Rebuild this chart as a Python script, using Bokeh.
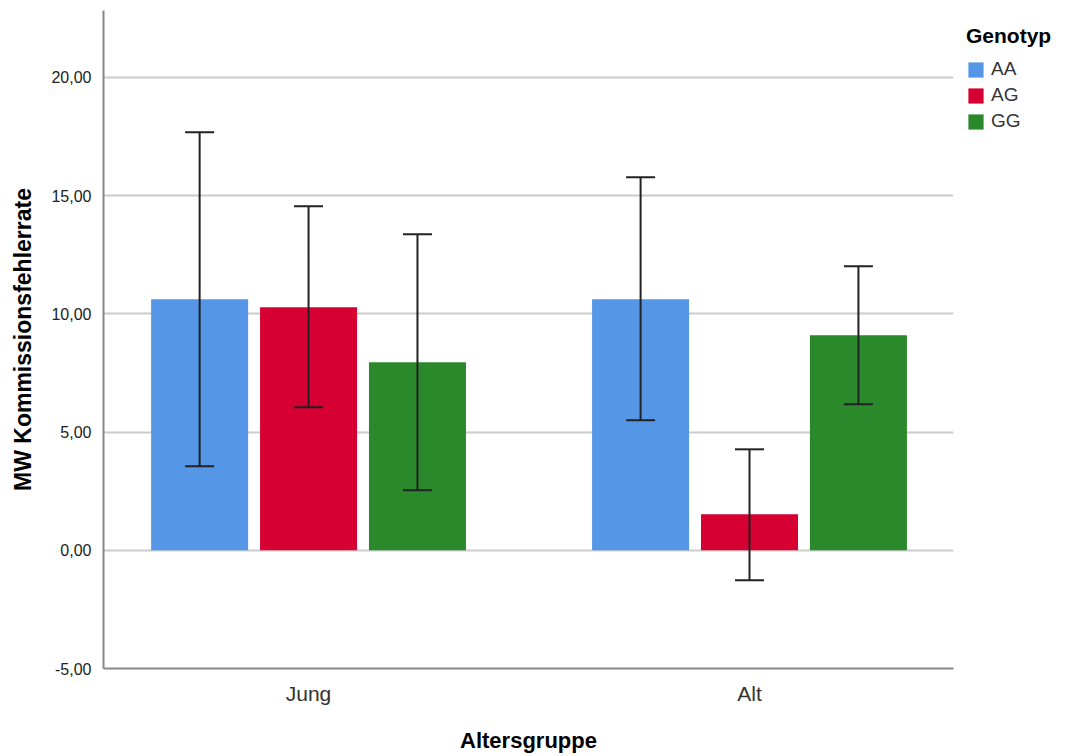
from bokeh.plotting import figure
from bokeh.models import (ColumnDataSource, Range1d, FixedTicker, Whisker, TeeHead,
                          Legend, LegendItem)
from bokeh.embed import file_html
from bokeh.resources import INLINE

# ---- data ----
groups = ["Jung", "Alt"]
genotypes = ["AA", "AG", "GG"]
colors = ["#5596e6", "#d70032", "#2a8a2b"]

mean_AA = [10.62, 10.62]
mean_AG = [10.28, 1.52]
mean_GG = [7.95, 9.09]

upper_AA = [17.68, 15.78]
lower_AA = [3.55, 5.50]
upper_AG = [14.55, 4.27]
lower_AG = [6.05, -1.27]
upper_GG = [13.37, 12.01]
lower_GG = [2.54, 6.18]

y_ticks = [-5, 0, 5, 10, 15, 20]
y_tick_labels = ["-5,00", "0,00", "5,00", "10,00", "15,00", "20,00"]

means = {"AA": mean_AA, "AG": mean_AG, "GG": mean_GG}
uppers = {"AA": upper_AA, "AG": upper_AG, "GG": upper_GG}
lowers = {"AA": lower_AA, "AG": lower_AG, "GG": lower_GG}

FONT = "Liberation Sans"
offset_step = 0.247
bar_w = 0.22

p = figure(frame_width=850, frame_height=658,
           x_range=Range1d(-0.465, 1.4626), y_range=Range1d(-5, 22.83),
           output_backend="svg", toolbar_location=None,
           min_border_left=103, min_border_right=96, min_border_top=10, min_border_bottom=0)

p.outline_line_color = None
p.background_fill_color = "white"
p.border_fill_color = "white"

renderers = []
for i, g in enumerate(genotypes):
    xs = [gi + (i - 1) * offset_step for gi in range(len(groups))]
    src = ColumnDataSource(dict(x=xs, top=means[g], upper=uppers[g], lower=lowers[g]))
    r = p.vbar(x="x", top="top", bottom=0, width=bar_w, source=src,
               fill_color=colors[i], line_color=None)
    renderers.append(r)
    w = Whisker(base="x", upper="upper", lower="lower", source=src, dimension="height",
                line_color="#222222", line_width=2, level="overlay",
                upper_head=TeeHead(size=29, line_color="#222222", line_width=2),
                lower_head=TeeHead(size=29, line_color="#222222", line_width=2))
    p.add_layout(w)

# axes
p.xaxis.ticker = FixedTicker(ticks=list(range(len(groups))))
p.xaxis.major_label_overrides = {i: g for i, g in enumerate(groups)}
p.yaxis.ticker = FixedTicker(ticks=y_ticks)
p.yaxis.major_label_overrides = {t: l for t, l in zip(y_ticks, y_tick_labels)}

for ax in (p.xaxis[0], p.yaxis[0]):
    ax.axis_line_color = "#888888"
    ax.axis_line_width = 2
    ax.major_tick_line_color = None
    ax.minor_tick_line_color = None
    ax.major_label_text_font = FONT
    ax.axis_label_text_font = FONT
    ax.axis_label_text_font_style = "bold"
    ax.axis_label_text_color = "black"

p.yaxis.major_label_text_font_size = "16px"
p.yaxis.major_label_text_color = "#222222"
p.yaxis.major_label_standoff = 6
p.yaxis.axis_label = "MW Kommissionsfehlerrate"
p.yaxis.axis_label_text_font_size = "23px"
p.yaxis.axis_label_standoff = 12

p.xaxis.major_label_text_font_size = "21px"
p.xaxis.major_label_text_color = "#333333"
p.xaxis.major_label_standoff = 7
p.xaxis.axis_label = "Altersgruppe"
p.xaxis.axis_label_text_font_size = "22px"
p.xaxis.axis_label_standoff = 20

p.xgrid.grid_line_color = None
p.ygrid.ticker = FixedTicker(ticks=y_ticks)
p.ygrid.grid_line_color = "#cccccc"
p.ygrid.grid_line_width = 2

# legend
items = [LegendItem(label=g, renderers=[r]) for g, r in zip(genotypes, renderers)]
legend = Legend(items=items, location=(13, 535), orientation="vertical",
                title="Genotyp", title_text_font=FONT, title_text_font_size="21px",
                title_text_font_style="bold", title_text_color="black", title_standoff=9,
                glyph_width=19, glyph_height=19, label_height=24, spacing=2,
                padding=0, margin=0, label_standoff=6,
                label_text_font=FONT, label_text_font_size="19px",
                label_text_color="#333333",
                border_line_color=None, background_fill_alpha=0)
p.add_layout(legend, "right")

open("out.html", "w").write(file_html(p, INLINE))
